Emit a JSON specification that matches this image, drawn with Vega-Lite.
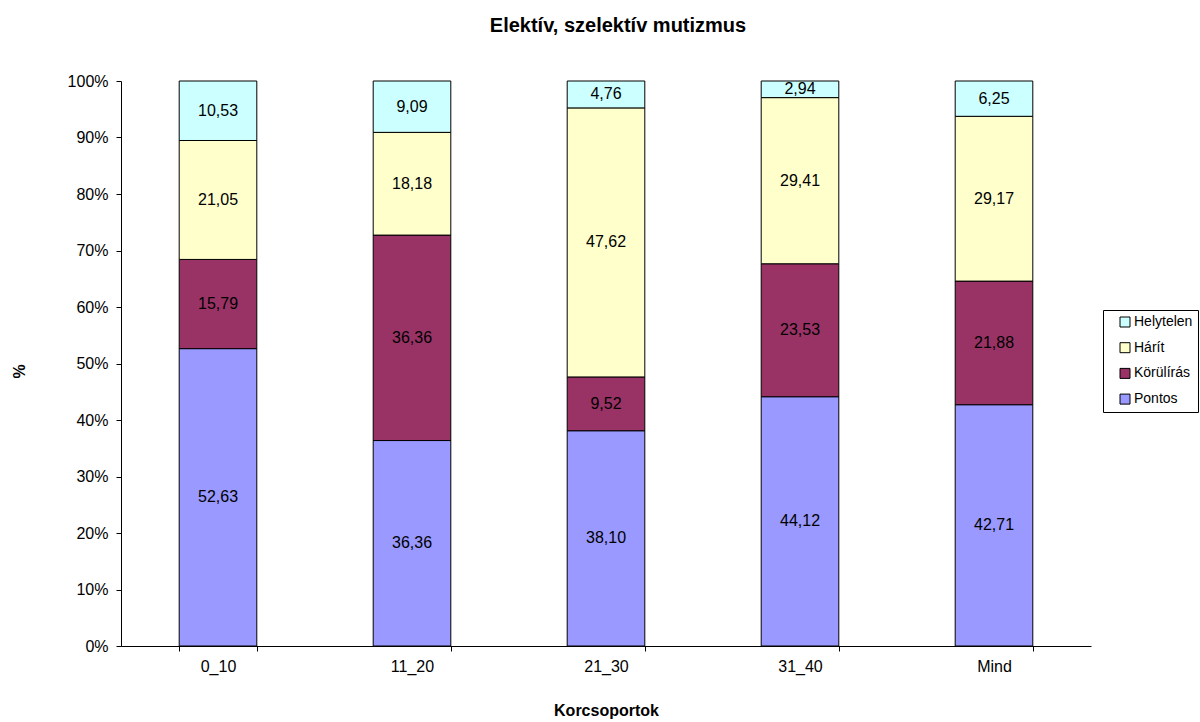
{
  "$schema": "https://vega.github.io/schema/vega-lite/v6.json",
  "width": 970,
  "height": 565,
  "autosize": {"type": "none"},
  "padding": {"left": 121, "top": 81, "right": 109, "bottom": 76},
  "background": "white",
  "title": {
    "text": "Elektív, szelektív mutizmus",
    "anchor": "middle",
    "fontSize": 20,
    "fontWeight": "bold",
    "font": "Liberation Sans",
    "color": "black",
    "offset": 37,
    "dx": 12
  },
  "data": {
    "values": [
      {"cat": "0_10", "series": "Pontos", "value": 52.63},
      {"cat": "0_10", "series": "Körülírás", "value": 15.79},
      {"cat": "0_10", "series": "Hárít", "value": 21.05},
      {"cat": "0_10", "series": "Helytelen", "value": 10.53},
      {"cat": "11_20", "series": "Pontos", "value": 36.36},
      {"cat": "11_20", "series": "Körülírás", "value": 36.36},
      {"cat": "11_20", "series": "Hárít", "value": 18.18},
      {"cat": "11_20", "series": "Helytelen", "value": 9.09},
      {"cat": "21_30", "series": "Pontos", "value": 38.10},
      {"cat": "21_30", "series": "Körülírás", "value": 9.52},
      {"cat": "21_30", "series": "Hárít", "value": 47.62},
      {"cat": "21_30", "series": "Helytelen", "value": 4.76},
      {"cat": "31_40", "series": "Pontos", "value": 44.12},
      {"cat": "31_40", "series": "Körülírás", "value": 23.53},
      {"cat": "31_40", "series": "Hárít", "value": 29.41},
      {"cat": "31_40", "series": "Helytelen", "value": 2.94},
      {"cat": "Mind", "series": "Pontos", "value": 42.71},
      {"cat": "Mind", "series": "Körülírás", "value": 21.88},
      {"cat": "Mind", "series": "Hárít", "value": 29.17},
      {"cat": "Mind", "series": "Helytelen", "value": 6.25}
    ]
  },
  "transform": [
    {"stack": "value", "groupby": ["cat"], "sort": [{"field": "series", "order": "descending"}], "as": ["y0", "y1"], "offset": "normalize"},
    {"calculate": "(datum.y0 + datum.y1) / 2", "as": "ym"}
  ],
  "encoding": {
    "x": {
      "field": "cat",
      "type": "nominal",
      "sort": null,
      "scale": {"paddingInner": 0.6, "paddingOuter": 0.3},
      "axis": {
        "title": "Korcsoportok",
        "labelAngle": 0,
        "tickBand": "extent",
        "labelPadding": 7,
        "titleY": 64,
        "titleBaseline": "middle"
      }
    }
  },
  "layer": [
    {
      "mark": {"type": "bar", "stroke": "black", "strokeWidth": 1},
      "encoding": {
        "y": {
          "field": "y0",
          "type": "quantitative",
          "scale": {"domain": [0, 1], "nice": false},
          "axis": {
            "title": "%",
            "format": ".0%",
            "values": [0, 0.1, 0.2, 0.3, 0.4, 0.5, 0.6, 0.7, 0.8, 0.9, 1],
            "labelOverlap": false,
            "labelPadding": 8,
            "titleX": -102,
            "titleY": 290,
            "titleAlign": "center",
            "titleBaseline": "middle",
            "titleAngle": -90
          }
        },
        "y2": {"field": "y1"},
        "color": {
          "field": "series",
          "type": "nominal",
          "scale": {
            "domain": ["Helytelen", "Hárít", "Körülírás", "Pontos"],
            "range": ["#CCFFFF", "#FFFFCC", "#993366", "#9999FF"]
          },
          "legend": {
            "title": null,
            "orient": "none",
            "legendX": 982,
            "legendY": 229,
            "symbolType": "square",
            "symbolSize": 100,
            "symbolStrokeColor": "black",
            "symbolStrokeWidth": 1,
            "symbolOpacity": 1,
            "symbolOffset": 10,
            "labelFontSize": 14,
            "labelFont": "Liberation Sans",
            "labelColor": "black",
            "rowPadding": 11.7,
            "labelOffset": 2,
            "strokeColor": "black",
            "fillColor": "white",
            "padding": 5
          }
        }
      }
    },
    {
      "mark": {"type": "text", "font": "Liberation Sans", "fontSize": 16, "color": "black", "baseline": "middle"},
      "encoding": {
        "y": {
          "field": "ym",
          "type": "quantitative",
          "scale": {"domain": [0, 1], "nice": false},
          "axis": {
            "title": "%",
            "format": ".0%",
            "values": [0, 0.1, 0.2, 0.3, 0.4, 0.5, 0.6, 0.7, 0.8, 0.9, 1],
            "labelOverlap": false,
            "labelPadding": 8,
            "titleX": -102,
            "titleY": 290,
            "titleAlign": "center",
            "titleBaseline": "middle",
            "titleAngle": -90
          }
        },
        "text": {"field": "value", "type": "quantitative", "format": ".2f"}
      }
    }
  ],
  "config": {
    "locale": {"number": {"decimal": ",", "thousands": " ", "grouping": [3], "currency": ["", ""]}},
    "view": {"stroke": null},
    "font": "Liberation Sans",
    "axis": {
      "grid": false,
      "domainColor": "black",
      "tickColor": "black",
      "tickSize": 5,
      "labelFont": "Liberation Sans",
      "labelFontSize": 16,
      "labelColor": "black",
      "titleFont": "Liberation Sans",
      "titleFontSize": 16,
      "titleFontWeight": "bold",
      "titleColor": "black"
    }
  }
}
